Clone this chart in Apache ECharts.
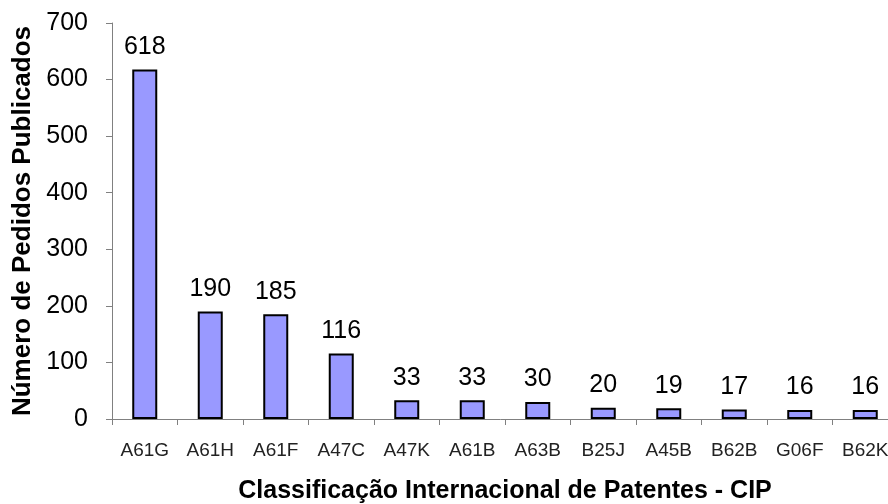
<!DOCTYPE html>
<html>
<head>
<meta charset="utf-8">
<title>CIP</title>
<script src="https://cdn.jsdelivr.net/npm/echarts@6/dist/echarts.min.js"></script>
<style>
  html, body { margin: 0; padding: 0; background: #fff; }
  #chart { width: 888px; height: 504px; }
</style>
</head>
<body>
<div id="chart"></div>
<script>
// categorias CIP e numero de pedidos
var categories = ['A61G', 'A61H', 'A61F', 'A47C', 'A47K', 'A61B', 'A63B', 'B25J', 'A45B', 'B62B', 'G06F', 'B62K'];
var pedidos = [618, 190, 185, 116, 33, 33, 30, 20, 19, 17, 16, 16];
var yTicks = [0, 100, 200, 300, 400, 500, 600, 700];

var chart = echarts.init(document.getElementById('chart'));
var font = '"Liberation Sans", Arial, sans-serif';
var axisGrey = '#808080';

chart.setOption({
  animation: false,
  grid: {
    left: 112,
    top: 23,
    width: 786,
    height: 396,
    outerBoundsMode: 'none',
    containLabel: false
  },
  xAxis: {
    type: 'category',
    data: categories,
    name: 'Classificação Internacional de Patentes - CIP',
    nameLocation: 'middle',
    nameGap: 60,
    nameTextStyle: { fontFamily: font, fontSize: 25, fontWeight: 'bold', color: '#000' },
    axisLine: { lineStyle: { color: axisGrey, width: 1 } },
    axisTick: { show: true, alignWithLabel: false, length: 6, lineStyle: { color: axisGrey } },
    axisLabel: { fontFamily: font, fontSize: 19, color: '#222', margin: 22, interval: 0 }
  },
  yAxis: {
    type: 'value',
    min: yTicks[0],
    max: yTicks[yTicks.length - 1],
    interval: 100,
    name: 'Número de Pedidos Publicados',
    nameLocation: 'middle',
    nameGap: 72,
    nameTextStyle: { fontFamily: font, fontSize: 26, fontWeight: 'bold', color: '#000' },
    splitLine: { show: false },
    axisLine: { show: true, lineStyle: { color: axisGrey, width: 1 } },
    axisTick: { show: true, length: 6, lineStyle: { color: axisGrey } },
    axisLabel: { fontFamily: font, fontSize: 25, color: '#000', margin: 24 }
  },
  series: [{
    type: 'bar',
    data: pedidos,
    barWidth: 25,
    itemStyle: { color: '#9999FF', borderColor: '#000', borderWidth: 2 },
    label: {
      show: true,
      position: 'top',
      distance: 10,
      fontFamily: font,
      fontSize: 25,
      color: '#000'
    }
  }]
});
</script>
</body>
</html>
